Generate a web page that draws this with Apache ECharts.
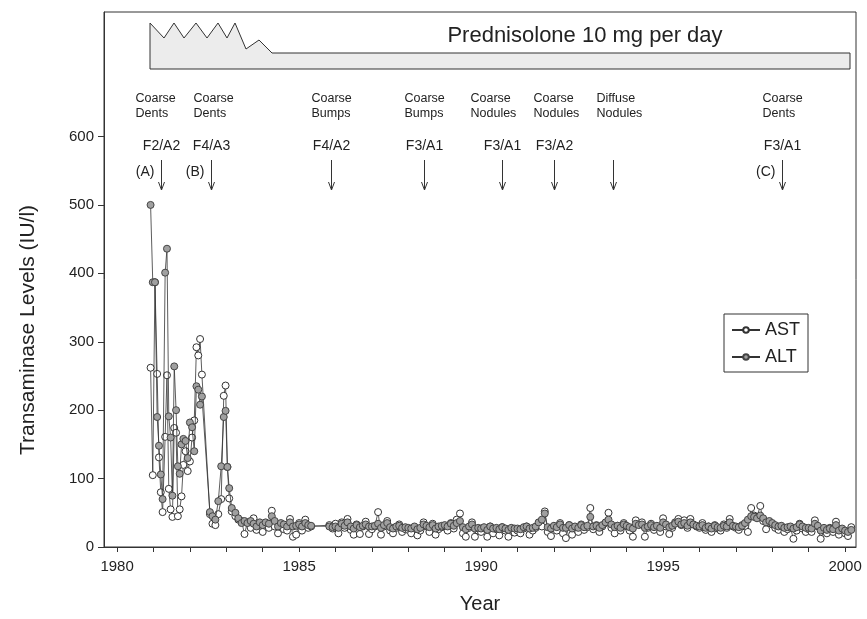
<!DOCTYPE html>
<html>
<head>
<meta charset="utf-8">
<script src="https://cdn.jsdelivr.net/npm/echarts@6/dist/echarts.min.js"></script>
<style>html,body{margin:0;padding:0;background:#fff;}#c{width:867px;height:619px;}</style>
</head>
<body>
<div id="c"></div>
<script>
// ---------------- DATA ----------------
const sampleYears = [
 1980.92,1980.98,1981.04,1981.10,1981.15,1981.20,1981.25,1981.32,1981.37,1981.42,
 1981.47,1981.52,1981.57,1981.62,1981.67,1981.72,1981.77,1981.82,1981.88,1981.94,
 1982.00,1982.06,1982.12,1982.18,1982.23,1982.28,1982.33,1982.55,1982.62,1982.70,
 1982.78,1982.86,1982.93,1982.98,1983.03,1983.08,1983.15,1983.25,1983.33,1983.42,
 1983.50,1983.58,1983.67,1983.75,1983.83,1983.92,
 1984.00,1984.08,1984.17,1984.25,1984.33,1984.42,1984.50,1984.58,1984.67,1984.75,1984.83,1984.92,
 1985.00,1985.08,1985.17,1985.25,1985.33,1985.83,1985.92,
 1986.00,1986.08,1986.17,1986.25,1986.33,1986.42,1986.50,1986.58,1986.67,1986.75,1986.83,1986.92,
 1987.00,1987.08,1987.17,1987.25,1987.33,1987.42,1987.50,1987.58,1987.67,1987.75,1987.83,1987.92,
 1988.00,1988.08,1988.17,1988.25,1988.33,1988.42,1988.50,1988.58,1988.67,1988.75,1988.83,1988.92,
 1989.00,1989.08,1989.17,1989.25,1989.33,1989.42,1989.50,1989.58,1989.67,1989.75,1989.83,1989.92,
 1990.00,1990.08,1990.17,1990.25,1990.33,1990.42,1990.50,1990.58,1990.67,1990.75,1990.83,1990.92,
 1991.00,1991.08,1991.17,1991.25,1991.33,1991.42,1991.50,1991.58,1991.67,1991.75,1991.83,1991.92,
 1992.00,1992.08,1992.17,1992.25,1992.33,1992.42,1992.50,1992.58,1992.67,1992.75,1992.83,1992.92,
 1993.00,1993.08,1993.17,1993.25,1993.33,1993.42,1993.50,1993.58,1993.67,1993.75,1993.83,1993.92,
 1994.00,1994.08,1994.17,1994.25,1994.33,1994.42,1994.50,1994.58,1994.67,1994.75,1994.83,1994.92,
 1995.00,1995.08,1995.17,1995.25,1995.33,1995.42,1995.50,1995.58,1995.67,1995.75,1995.83,1995.92,
 1996.00,1996.08,1996.17,1996.25,1996.33,1996.42,1996.50,1996.58,1996.67,1996.75,1996.83,1996.92,
 1997.00,1997.08,1997.17,1997.25,1997.33,1997.42,1997.50,1997.58,1997.67,1997.75,1997.83,1997.92,
 1998.00,1998.08,1998.17,1998.25,1998.33,1998.42,1998.50,1998.58,1998.67,1998.75,1998.83,1998.92,
 1999.00,1999.08,1999.17,1999.25,1999.33,1999.42,1999.50,1999.58,1999.67,1999.75,1999.83,1999.92,
 2000.00,2000.08,2000.17
];
const astValues = [
 262,105,387,253,131,80,51,161,251,85,
 55,44,174,167,45,55,74,120,140,111,
 125,160,185,292,280,304,252,48,34,32,
 48,70,221,236,117,71,52,45,40,38,
 19,36,28,42,25,33,
 22,35,28,53,30,20,32,26,24,41,15,18,
 35,24,40,28,30,32,27,
 34,20,36,28,41,25,18,33,19,30,37,19,
 26,30,51,18,30,38,24,20,28,33,22,26,
 25,20,28,17,24,36,30,22,34,18,26,29,
 30,24,35,27,40,49,20,15,28,36,15,24,
 22,28,15,30,20,26,17,29,24,15,27,21,
 24,20,27,30,18,24,28,34,30,52,22,16,
 30,24,35,20,13,32,18,27,22,33,25,29,
 57,26,32,22,30,35,50,28,20,31,24,35,
 30,24,15,39,33,36,15,28,34,25,30,22,
 42,30,19,28,36,41,32,39,28,41,33,30,
 28,35,25,30,22,32,27,24,33,28,41,30,
 28,25,32,30,22,57,46,44,60,38,26,35,
 33,28,25,30,22,26,28,12,24,34,27,22,
 26,22,39,30,12,24,20,28,22,37,18,25,
 20,16,29
];
const altValues = [
 500,387,387,190,148,106,70,401,436,191,
 160,75,264,200,118,107,150,158,155,130,
 182,175,140,235,230,208,220,51,45,40,
 67,118,190,199,117,86,57,50,42,35,
 38,35,38,34,30,36,
 32,36,34,45,38,30,35,33,30,36,30,31,
 33,30,35,32,31,30,29,
 30,28,34,31,36,30,27,32,29,31,33,30,
 30,31,34,28,32,35,29,27,30,31,28,29,
 28,27,30,26,28,33,31,29,32,27,30,31,
 32,30,34,31,35,38,29,26,30,33,27,28,
 27,29,25,30,27,28,26,29,27,25,28,27,
 27,26,29,30,27,28,30,36,40,49,29,27,
 31,29,33,28,28,32,27,30,28,32,29,31,
 44,30,31,28,32,36,40,33,29,31,28,33,
 31,29,27,34,32,33,28,30,32,29,31,28,
 36,33,29,31,34,37,33,35,31,36,33,31,
 30,32,28,30,27,31,29,28,31,30,36,31,
 30,29,31,35,40,45,44,42,46,42,36,38,
 35,32,30,31,28,29,30,27,29,33,30,28,
 28,27,34,31,24,28,25,27,26,32,24,27,
 24,22,25
];
const seriesNames = ['AST', 'ALT'];
const yTickValues = [0, 100, 200, 300, 400, 500, 600];
const xTickValues = [1980,1981,1982,1983,1984,1985,1986,1987,1988,1989,1990,1991,1992,1993,1994,1995,1996,1997,1998,1999,2000];
const xLabelValues = [1980, 1985, 1990, 1995, 2000];
const annotYears  = [1981.21, 1982.58, 1985.88, 1988.44, 1990.58, 1991.99, 1993.63, 1998.26];
const annotLine1  = ['Coarse','Coarse','Coarse','Coarse','Coarse','Coarse','Diffuse','Coarse'];
const annotLine2  = ['Dents','Dents','Bumps','Bumps','Nodules','Nodules','Nodules','Dents'];
const annotGrade  = ['F2/A2','F4/A3','F4/A2','F3/A1','F3/A1','F3/A2','','F3/A1'];
const annotTag    = ['(A)','(B)','','','','','','(C)'];
const treatmentText = 'Prednisolone 10 mg per day';
const xAxisTitle = 'Year';
const yAxisTitle = 'Transaminase Levels (IU/l)';

// ---------------- CHART ----------------
const FONT = "'Liberation Sans', Arial, Helvetica, sans-serif";
const INK = '#222';
const chart = echarts.init(document.getElementById('c'), null, {renderer: 'canvas'});

function pairs(vals) { return sampleYears.map((t, i) => [t, vals[i]]); }

chart.setOption({
  animation: false,
  backgroundColor: '#fff',
  textStyle: {fontFamily: FONT, color: INK},
  grid: {left: 104, right: 11, top: 12, bottom: 71, show: true, borderColor: '#333', borderWidth: 1},
  legend: {
    data: seriesNames, orient: 'vertical', left: 724, top: 314,
    backgroundColor: '#fff', borderColor: '#333', borderWidth: 1,
    padding: [7, 8, 6, 7], itemGap: 9, itemWidth: 28, itemHeight: 7,
    textStyle: {fontSize: 18, color: INK, fontFamily: FONT}
  },
  xAxis: {
    type: 'value', min: 1979.64, max: 2000.30,
    name: xAxisTitle, nameLocation: 'middle', nameGap: 47,
    nameTextStyle: {fontSize: 20, color: INK, fontFamily: FONT},
    axisLine: {show: true, onZero: false, lineStyle: {color: '#333', width: 1}},
    axisTick: {show: true, inside: false, length: 5, customValues: xTickValues, lineStyle: {color: '#333'}},
    axisLabel: {customValues: xLabelValues, formatter: v => String(v), fontSize: 15, color: INK, margin: 12, fontFamily: FONT},
    splitLine: {show: false}
  },
  yAxis: {
    type: 'value', min: 0, max: 782,
    axisLine: {show: true, lineStyle: {color: '#333', width: 1}},
    axisTick: {show: true, inside: false, length: 6, customValues: yTickValues, lineStyle: {color: '#333'}},
    axisLabel: {customValues: yTickValues, formatter: v => String(v), fontSize: 15, color: INK, margin: 10, fontFamily: FONT},
    splitLine: {show: false}
  },
  series: [
    {
      name: seriesNames[0], type: 'line', data: pairs(astValues),
      symbol: 'circle', symbolSize: 7, showAllSymbol: true,
      lineStyle: {color: '#333', width: 0.8},
      itemStyle: {color: '#fff', borderColor: '#333', borderWidth: 1},
      z: 2
    },
    {
      name: seriesNames[1], type: 'line', data: pairs(altValues),
      symbol: 'circle', symbolSize: 7, showAllSymbol: true,
      lineStyle: {color: '#333', width: 0.8},
      itemStyle: {color: '#a0a0a0', borderColor: '#444', borderWidth: 1},
      z: 3
    }
  ]
});

// ---------------- ANNOTATIONS ----------------
const textLeftOffset = [-26, -18, -20, -20, -32, -21, -17, -20];
const g = [];
g.push({type: 'text', x: 28, y: 330, rotation: Math.PI / 2,
  style: {text: yAxisTitle, font: '21px ' + FONT, fill: INK, textAlign: 'center', textVerticalAlign: 'middle'}, z: 11});
// Prednisolone box (decorative schematic)
g.push({
  type: 'polygon',
  shape: {points: [[150,69],[150,23],[164,38],[174,23],[184,38],[196,23],[207,38],[218,23],[227,38],[235,23],[246,49],[259,40],[272,53],[850,53],[850,69]]},
  style: {fill: '#ececec', stroke: '#333', lineWidth: 1}, z: 10
});
g.push({type: 'text', x: 585, y: 36, style: {text: treatmentText, font: '22px ' + FONT, fill: INK, textAlign: 'center', textVerticalAlign: 'middle'}, z: 11});

annotYears.forEach((yr, i) => {
  const x = Math.round(chart.convertToPixel({xAxisIndex: 0}, yr)) + 0.5;
  const tl = x + textLeftOffset[i];
  g.push({type: 'text', x: tl, y: 99, style: {text: annotLine1[i], font: '12.5px ' + FONT, fill: INK, textAlign: 'left', textVerticalAlign: 'middle'}, z: 11});
  g.push({type: 'text', x: tl, y: 114, style: {text: annotLine2[i], font: '12.5px ' + FONT, fill: INK, textAlign: 'left', textVerticalAlign: 'middle'}, z: 11});
  if (annotGrade[i]) g.push({type: 'text', x: x, y: 146, style: {text: annotGrade[i], font: '14px ' + FONT, fill: INK, textAlign: 'center', textVerticalAlign: 'middle'}, z: 11});
  if (annotTag[i]) g.push({type: 'text', x: x - 7, y: 172, style: {text: annotTag[i], font: '14px ' + FONT, fill: INK, textAlign: 'right', textVerticalAlign: 'middle'}, z: 11});
  g.push({type: 'line', shape: {x1: x, y1: 160, x2: x, y2: 189}, style: {stroke: '#333', lineWidth: 1}, z: 11});
  g.push({type: 'polyline', shape: {points: [[x-3,182],[x,190],[x+3,182]]}, style: {stroke: '#333', lineWidth: 1, fill: null}, z: 11});
});
chart.setOption({graphic: g});
</script>
</body>
</html>
